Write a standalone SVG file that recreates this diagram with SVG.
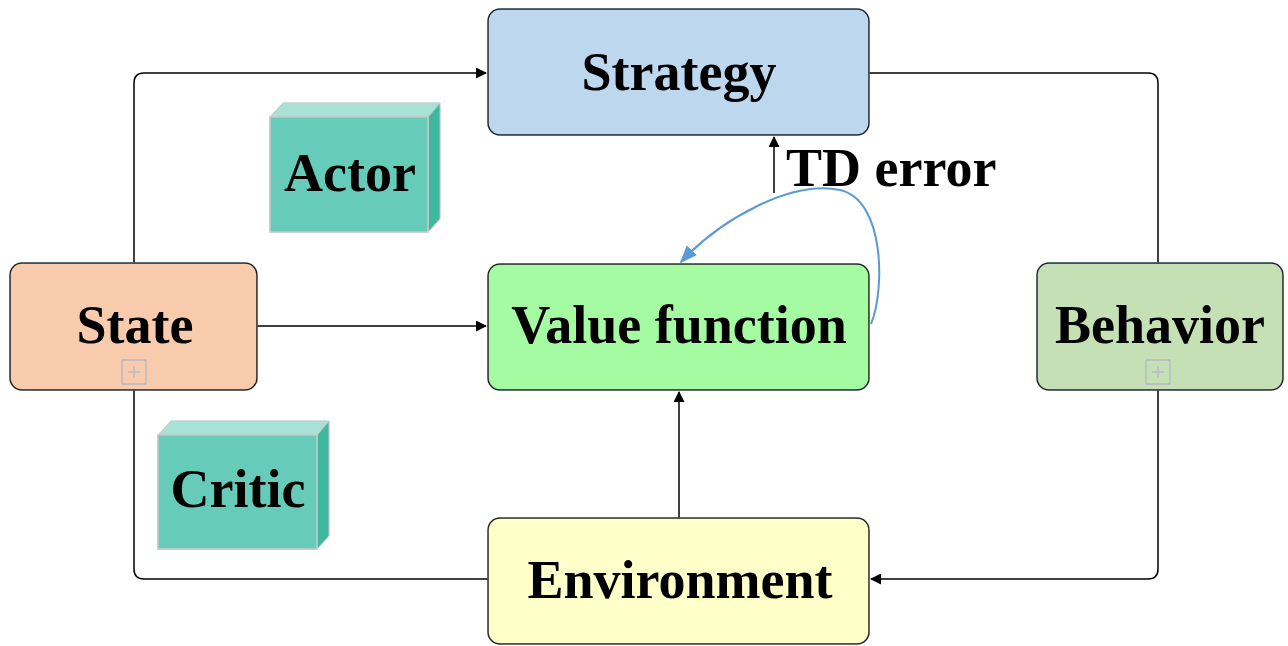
<svg xmlns="http://www.w3.org/2000/svg" width="1288" height="646" viewBox="0 0 1288 646">
<defs>
<style>
.node{stroke:#222;stroke-width:1.5}
.lbl{font-family:"Liberation Serif",serif;font-weight:bold;fill:#000;text-anchor:middle;font-size:54px}
.conn{fill:none;stroke:#000;stroke-width:1.5}
.plus{fill:none;stroke:#b8b8c8;stroke-width:1.5}
.cube-front{fill:#66cbb8;stroke:#c8c8c8;stroke-width:1.5}
.cube-top{fill:#a8e2d6;stroke:#c8c8c8;stroke-width:1}
.cube-side{fill:#3fb89f;stroke:#c8c8c8;stroke-width:1}
</style>
<marker id="ah" markerWidth="11" markerHeight="11" refX="10" refY="5.5" orient="auto" markerUnits="userSpaceOnUse">
<path d="M0,0 L11,5.5 L0,11 Z" fill="#000"/>
</marker>
<marker id="ahb" markerWidth="18" markerHeight="14" refX="16" refY="7" orient="auto" markerUnits="userSpaceOnUse">
<path d="M0,0 L18,7 L0,14 Z" fill="#5b9bd5"/>
</marker>
<filter id="sh" x="-10%" y="-10%" width="120%" height="130%">
<feGaussianBlur in="SourceAlpha" stdDeviation="3"/>
<feOffset dx="0" dy="4"/>
<feFlood flood-color="#9dc3e6" flood-opacity="0.5"/>
<feComposite operator="in" in2="SourceAlpha"/>
<feMerge><feMergeNode/><feMergeNode in="SourceGraphic"/></feMerge>
</filter>
</defs>
<rect width="1288" height="646" fill="#fff"/>
<g id="connectors">
<path class="conn" d="M134,263 V83 Q134,73 144,73 H486" marker-end="url(#ah)"/>
<path class="conn" d="M869,73 H1148 Q1158,73 1158,83 V263"/>
<path class="conn" d="M1158,390 V569 Q1158,579 1148,579 H871" marker-end="url(#ah)"/>
<path class="conn" d="M488,579 H144 Q134,579 134,569 V390"/>
<path class="conn" d="M257,326 H486" marker-end="url(#ah)"/>
<path class="conn" d="M679,518 V392" marker-end="url(#ah)"/>
<path class="conn" d="M774,193 V137" marker-end="url(#ah)"/>
<path d="M871,324 C885,290 885,200 840,190 C790,180 720,220 681,262" fill="none" stroke="#5b9bd5" stroke-width="2" marker-end="url(#ahb)"/>
<text class="lbl" x="786" y="186" style="text-anchor:start">TD error</text>
</g>
<g id="strategy" filter="url(#sh)">
<rect class="node" x="488" y="9" width="381" height="126" rx="12" fill="#bdd7ee"/>
<text class="lbl" x="679" y="90">Strategy</text>
</g>
<g id="value-function" filter="url(#sh)">
<rect class="node" x="488" y="264" width="381" height="126" rx="12" fill="#a5fba1"/>
<text class="lbl" x="679" y="343">Value function</text>
</g>
<g id="environment" filter="url(#sh)">
<rect class="node" x="488" y="518" width="381" height="126" rx="12" fill="#ffffc9"/>
<text class="lbl" x="680" y="598">Environment</text>
</g>
<g id="state" filter="url(#sh)">
<rect class="node" x="10" y="263" width="247" height="127" rx="12" fill="#f8cbad"/>
<text class="lbl" x="135" y="343">State</text>
<rect class="plus" x="122" y="360" width="24" height="24"/>
<path class="plus" d="M128,372 H140 M134,366 V378"/>
</g>
<g id="behavior" filter="url(#sh)">
<rect class="node" x="1037" y="263" width="246" height="127" rx="12" fill="#c5e0b4"/>
<text class="lbl" x="1160" y="343">Behavior</text>
<rect class="plus" x="1146" y="360" width="24" height="24"/>
<path class="plus" d="M1152,372 H1164 M1158,366 V378"/>
</g>
<g id="actor" filter="url(#sh)">
<path class="cube-top" d="M270,117 L283,103 L440,103 L428,117 Z"/>
<path class="cube-side" d="M428,117 L440,103 L440,219 L428,232 Z"/>
<rect class="cube-front" x="270" y="117" width="158" height="115"/>
<text class="lbl" x="350" y="191">Actor</text>
</g>
<g id="critic" filter="url(#sh)">
<path class="cube-top" d="M158,435 L171,421 L329,421 L317,435 Z"/>
<path class="cube-side" d="M317,435 L329,421 L329,536 L317,549 Z"/>
<rect class="cube-front" x="158" y="435" width="159" height="114"/>
<text class="lbl" x="238" y="507">Critic</text>
</g>
</svg>
